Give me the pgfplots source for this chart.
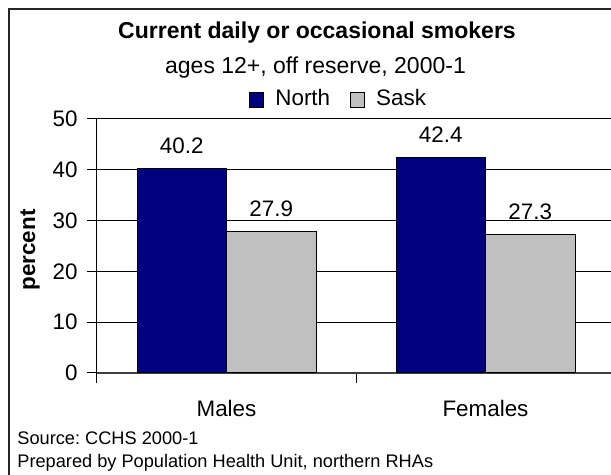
\documentclass[border=0pt]{standalone}
\usepackage{fontspec}
\setmainfont{Liberation Sans}
\usepackage{pgfplots}
\pgfplotsset{compat=1.18}
\definecolor{north}{RGB}{0,0,128}
\definecolor{sask}{RGB}{192,192,192}
\newcommand{\lbl}{\fontsize{11.2}{13}\selectfont}
\frenchspacing

\begin{document}
\begin{tikzpicture}[x=1pt,y=1pt]
\useasboundingbox (0,0) rectangle (305.5,237.5);
\clip (0,0) rectangle (305.5,237.5);
\fill[white] (0,0) rectangle (305.5,237.5);
% chart frame
\draw[line width=1.1pt, black!85] (4.5,-10) -- (4.5,233) -- (320,233);

\node[anchor=base, font=\bfseries\fontsize{11.5}{14}\selectfont] at (158.5,218) {Current daily or occasional smokers};
\node[anchor=base, font=\fontsize{11.5}{14}\selectfont] at (157.75,200.5) {ages 12+, off reserve, 2000-1};
\node[rotate=90, anchor=base, font=\bfseries\lbl] at (17.5,112.5) {percent};
\node[anchor=base west, inner sep=0pt, font=\fontsize{9.1}{11}\selectfont] at (8.5,15) {Source: CCHS 2000-1};
\node[anchor=base west, inner sep=0pt, font=\fontsize{9.1}{11}\selectfont] at (8.5,3.5) {Prepared by Population Health Unit, northern RHAs};

\begin{axis}[
  at={(48.5pt,51pt)}, anchor=south west,
  scale only axis, width=259pt, height=127pt,
  xmin=-0.5, xmax=1.5, ymin=0, ymax=50,
  clip=false,
  ybar=0pt, bar width=44.75pt,
  axis x line*=bottom, axis y line*=left,
  x axis line style={black!75, line width=0.6pt},
  y axis line style={black, line width=0.5pt},
  xtick={-0.5,0.5,1.5}, xticklabels={},
  ytick={0,10,...,50},
  ymajorgrids, grid style={black, line width=0.5pt},
  tick align=outside, major tick length=5pt,
  tick style={black, line width=0.5pt},
  yticklabel style={anchor=east, inner sep=0pt, xshift=-4.5pt},
  ticklabel style={font=\lbl},
  /pgf/number format/assume math mode=true,
  nodes near coords,
  every node near coord/.append style={font=\lbl, anchor=base, inner sep=0pt, yshift=7.5pt},
  nodes near coords={\pgfmathprintnumber[fixed,fixed zerofill,precision=1,assume math mode=true]{\pgfplotspointmeta}},
  legend style={draw=none, fill=none, inner sep=0pt, font=\lbl,
    at={(rel axis cs:0.2934,1.04)}, anchor=south west, legend columns=-1,
    nodes={inner sep=0pt},
    /tikz/every odd column/.append style={column sep=5.5pt},
    /tikz/every even column/.append style={column sep=10pt}},
  legend image code/.code={\draw[#1, draw=black, line width=0.5pt] (0pt,-4.5pt) rectangle (7pt,3pt);},
]
\addplot[fill=north, draw=black, line width=0.5pt] coordinates {(0,40.2) (1,42.4)};
\addplot[fill=sask, draw=black, line width=0.5pt] coordinates {(0,27.9) (1,27.3)};
\legend{North,Sask}
\node[anchor=base, font=\lbl, yshift=-22pt] at (axis cs:0,0) {Males};
\node[anchor=base, font=\lbl, yshift=-22pt] at (axis cs:1,0) {Females};
\end{axis}
\end{tikzpicture}
\end{document}
